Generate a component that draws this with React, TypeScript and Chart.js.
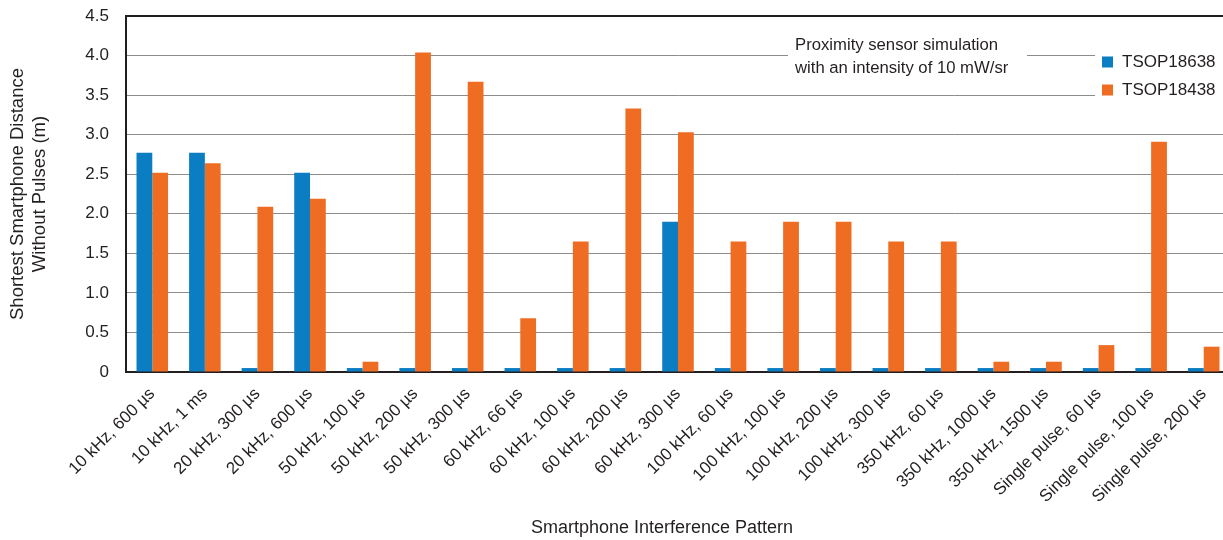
import React, { useEffect, useRef } from "react";
import { Chart, registerables } from "chart.js";

Chart.register(...registerables);

const categories: string[] = [
  "10 kHz, 600 µs",
  "10 kHz, 1 ms",
  "20 kHz, 300 µs",
  "20 kHz, 600 µs",
  "50 kHz, 100 µs",
  "50 kHz, 200 µs",
  "50 kHz, 300 µs",
  "60 kHz, 66 µs",
  "60 kHz, 100 µs",
  "60 kHz, 200 µs",
  "60 kHz, 300 µs",
  "100 kHz, 60 µs",
  "100 kHz, 100 µs",
  "100 kHz, 200 µs",
  "100 kHz, 300 µs",
  "350 kHz, 60 µs",
  "350 kHz, 1000 µs",
  "350 kHz, 1500 µs",
  "Single pulse, 60 µs",
  "Single pulse, 100 µs",
  "Single pulse, 200 µs",
];

const tsop18638: number[] = [
  2.77, 2.77, 0.05, 2.52, 0.05, 0.05, 0.05, 0.05, 0.05, 0.05, 1.9, 0.05, 0.05,
  0.05, 0.05, 0.05, 0.05, 0.05, 0.05, 0.05, 0.05,
];

const tsop18438: number[] = [
  2.52, 2.64, 2.09, 2.19, 0.13, 4.04, 3.67, 0.68, 1.65, 3.33, 3.03, 1.65, 1.9,
  1.9, 1.65, 1.65, 0.13, 0.13, 0.34, 2.91, 0.32,
];

const yTicks: number[] = [0, 0.5, 1, 1.5, 2, 2.5, 3, 3.5, 4, 4.5];

const yTitle: string[] = ["Shortest Smartphone Distance", "Without Pulses (m)"];
const xTitle = "Smartphone Interference Pattern";
const noteLines: string[] = [
  "Proximity sensor simulation",
  "with an intensity of 10 mW/sr",
];

const BLUE = "#0b7dc3";
const ORANGE = "#ef6c23";
const TEXT = "#231f20";
const FONT = "'Liberation Sans', Arial, Helvetica, sans-serif";

const decorPlugin = {
  id: "decor",
  beforeDatasetsDraw(chart: any) {
    const { ctx } = chart;
    ctx.save();
    // white boxes behind the note and legend
    ctx.fillStyle = "#ffffff";
    ctx.fillRect(788, 28, 239, 54);
    ctx.fillRect(1095, 38, chart.width - 1095, 70);
    // note text
    ctx.fillStyle = TEXT;
    ctx.font = `16.7px ${FONT}`;
    ctx.textBaseline = "middle";
    ctx.textAlign = "left";
    ctx.fillText(noteLines[0], 795, 45);
    ctx.fillText(noteLines[1], 795, 68);
    // legend
    ctx.font = `17px ${FONT}`;
    const ys = [62, 90];
    chart.data.datasets.forEach((ds: any, i: number) => {
      ctx.fillStyle = ds.backgroundColor;
      ctx.fillRect(1102, ys[i] - 5.5, 11, 11);
      ctx.fillStyle = TEXT;
      ctx.fillText(ds.label, 1122, ys[i] + 0.5);
    });
    ctx.restore();
  },
  afterDraw(chart: any) {
    const { ctx, chartArea } = chart;
    ctx.save();
    // top frame line
    ctx.strokeStyle = TEXT;
    ctx.lineWidth = 2;
    ctx.beginPath();
    ctx.moveTo(chartArea.left - 1, chartArea.top);
    ctx.lineTo(chart.width, chartArea.top);
    ctx.stroke();
    // axis titles
    ctx.fillStyle = TEXT;
    ctx.font = `18px ${FONT}`;
    ctx.textAlign = "center";
    ctx.textBaseline = "middle";
    ctx.fillText(xTitle, 662, 528);
    ctx.font = `18.5px ${FONT}`;
    const cy = (chartArea.top + chartArea.bottom) / 2;
    ctx.translate(0, cy);
    ctx.rotate(-Math.PI / 2);
    ctx.fillText(yTitle[0], 0, 18);
    ctx.fillText(yTitle[1], 0, 40);
    ctx.restore();
  },
};

export default function App() {
  const canvasRef = useRef<HTMLCanvasElement | null>(null);

  useEffect(() => {
    document.body.style.margin = "0";
    document.body.style.overflow = "hidden";
    const canvas = canvasRef.current;
    if (!canvas) return;
    const chart = new Chart(canvas, {
      type: "bar",
      data: {
        labels: categories,
        datasets: [
          {
            label: "TSOP18638",
            data: tsop18638,
            backgroundColor: BLUE,
            borderWidth: 0,
          },
          {
            label: "TSOP18438",
            data: tsop18438,
            backgroundColor: ORANGE,
            borderWidth: 0,
          },
        ],
      },
      options: {
        responsive: false,
        animation: false,
        devicePixelRatio: 1,
        layout: { padding: { top: 16, right: 2, left: 0, bottom: 0 } },
        datasets: {
          bar: { categoryPercentage: 0.6, barPercentage: 1.0 },
        },
        plugins: {
          legend: { display: false },
          tooltip: { enabled: false },
        },
        scales: {
          x: {
            offset: true,
            grid: { display: false, drawTicks: false },
            border: { display: true, color: TEXT, width: 2 },
            ticks: {
              color: TEXT,
              font: { family: FONT, size: 17 },
              minRotation: 45,
              maxRotation: 45,
              autoSkip: false,
              padding: 12,
            },
            afterFit: (s: any) => {
              s.height = 168;
              s.paddingLeft = 0;
              s.paddingRight = 0;
            },
          },
          y: {
            min: 0,
            max: 4.5,
            afterBuildTicks: (s: any) => {
              s.ticks = yTicks.map((v) => ({ value: v }));
            },
            grid: { color: "#8c8c8c", lineWidth: 1, drawTicks: false },
            border: { display: true, color: TEXT, width: 2 },
            ticks: {
              color: TEXT,
              font: { family: FONT, size: 17 },
              padding: 17,
              callback: (v: any) => (Number(v) === 0 ? "0" : Number(v).toFixed(1)),
            },
            afterFit: (s: any) => {
              s.width = 126;
              s.paddingTop = 0;
              s.paddingBottom = 0;
            },
          },
        },
      },
      plugins: [decorPlugin],
    });
    return () => chart.destroy();
  }, []);

  return (
    <div style={{ width: 1223, height: 540, overflow: "hidden", position: "relative" }}>
      <canvas ref={canvasRef} width={1232} height={540} style={{ display: "block" }} />
    </div>
  );
}
